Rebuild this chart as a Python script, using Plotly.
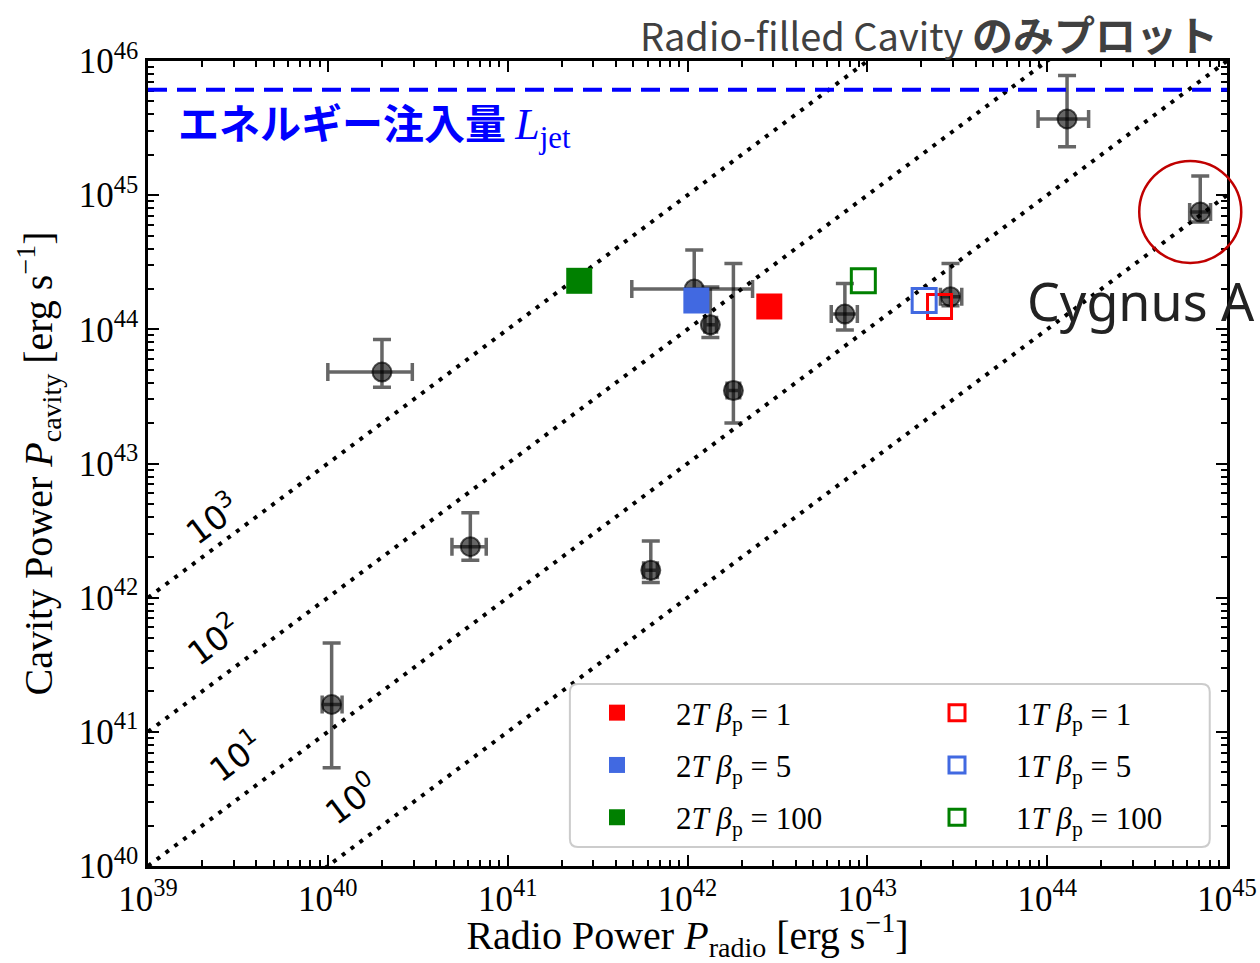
import numpy as np
import plotly.graph_objects as go

# ---------------- data ----------------
# black points (observed clusters)
P_radio = [2.0e40, 1.29e44, 7.1e44, 7.5e42, 2.9e43, 1.09e42, 1.8e42, 1.34e42, 6.2e40, 1.05e40, 6.25e41]
P_radio_lo = [1.0e40, 8.9e43, 6.2e44, 6.3e42, 2.55e43, 4.9e41, 1.66e42, 1.25e42, 4.9e40, 9.3e39, 5.7e41]
P_radio_hi = [2.95e40, 1.7e44, 8.1e44, 8.8e42, 3.35e43, 2.3e42, 1.95e42, 1.45e42, 7.6e40, 1.2e40, 6.8e41]
P_cav = [4.8e43, 3.7e45, 7.5e44, 1.3e44, 1.75e44, 2.0e44, 3.5e43, 1.08e44, 2.4e42, 1.6e41, 1.6e42]
P_cav_lo = [3.7e43, 2.3e45, 6.3e44, 9.9e43, 1.5e44, 1.4e44, 2.0e43, 8.7e43, 1.9e42, 5.4e40, 1.3e42]
P_cav_hi = [8.4e43, 7.8e45, 1.39e45, 2.2e44, 3.1e44, 3.9e44, 3.1e44, 2.07e44, 4.3e42, 4.6e41, 2.65e42]

# simulations
beta_labels = ["1", "5", "100"]
sim_colors = ["#ff0000", "#4169e1", "#008000"]
sim2T_radio = [2.85e42, 1.12e42, 2.5e41]
sim2T_cav = [1.48e44, 1.64e44, 2.3e44]
sim1T_radio = [2.52e43, 2.07e43, 9.5e42]
sim1T_cav = [1.48e44, 1.64e44, 2.3e44]

# ratio lines P_cav / P_radio
ratios = [1, 10, 100, 1000]
ratio_labels = ["10<sup>0</sup>", "10<sup>1</sup>", "10<sup>2</sup>", "10<sup>3</sup>"]
ratio_label_x = [1.35e40, 3.08e39, 2.3e39, 2.27e39]
ratio_label_shift = [50, 45, 44, 31]

L_jet = 6.1e45
cygnus_index = 2

x_range = [39, 45]
y_range = [40, 46]
x_exps = [39, 40, 41, 42, 43, 44, 45]
y_exps = [40, 41, 42, 43, 44, 45, 46]
x_tick_labels = [f"10<sup>{e}</sup>" for e in x_exps]
y_tick_labels = [f"10<sup>{e}</sup>" for e in y_exps]

SERIF = "Liberation Serif, DejaVu Serif, serif"


def minor_vals(exps):
    return [m * 10.0 ** e for e in exps[:-1] for m in range(2, 10)]


fig = go.Figure()

# ratio lines
for k in ratios:
    fig.add_trace(go.Scatter(
        x=[1e39, 1e45], y=[k * 1e39, k * 1e45], mode="lines",
        line=dict(color="black", width=4, dash="4px,7px"),
        showlegend=False, hoverinfo="skip"))

# observed points
ea = "rgba(0,0,0,0.6)"
fig.add_trace(go.Scatter(
    x=P_radio, y=P_cav, mode="markers",
    marker=dict(symbol="circle", size=19, color="rgba(0,0,0,0.6)",
                line=dict(color="rgba(0,0,0,0.65)", width=2)),
    error_y=dict(type="data", symmetric=False,
                 array=[h - v for h, v in zip(P_cav_hi, P_cav)],
                 arrayminus=[v - l for l, v in zip(P_cav_lo, P_cav)],
                 color=ea, thickness=3.5, width=9),
    error_x=dict(type="data", symmetric=False,
                 array=[h - v for h, v in zip(P_radio_hi, P_radio)],
                 arrayminus=[v - l for l, v in zip(P_radio_lo, P_radio)],
                 color=ea, thickness=3.5, width=9),
    showlegend=False))

# simulations 2T (filled) -> legend, 1T (open) -> legend2
for i in range(3):
    fig.add_trace(go.Scatter(
        x=[sim2T_radio[i]], y=[sim2T_cav[i]], mode="markers",
        name=f"2<i>T</i> <i>β</i><sub>p</sub> = {beta_labels[i]}",
        legend="legend", legendgroup=f"a{i}",
        marker=dict(symbol="square", size=26, color=sim_colors[i],
                    line=dict(width=0))))
for i in range(3):
    fig.add_trace(go.Scatter(
        x=[sim1T_radio[i]], y=[sim1T_cav[i]], mode="markers",
        name=f"1<i>T</i> <i>β</i><sub>p</sub> = {beta_labels[i]}",
        legend="legend2", legendgroup=f"b{i}",
        marker=dict(symbol="square-open", size=24, color=sim_colors[i],
                    line=dict(width=3, color=sim_colors[i]))))

shapes = []
# L_jet dashed line
shapes.append(dict(type="line", xref="paper", yref="y", x0=0, x1=1, y0=L_jet, y1=L_jet,
                   line=dict(color="#0000ff", width=4, dash="19px,10px"), layer="above"))

# legend frame (rounded rect in paper coords)
PW, PH = 1079.0, 805.0
lx0, lx1, ly0, ly1 = 0.391, 0.984, 0.0236, 0.226
rx, ry = 8 / PW, 8 / PH
path = (f"M {lx0+rx},{ly0} L {lx1-rx},{ly0} Q {lx1},{ly0} {lx1},{ly0+ry} "
        f"L {lx1},{ly1-ry} Q {lx1},{ly1} {lx1-rx},{ly1} L {lx0+rx},{ly1} "
        f"Q {lx0},{ly1} {lx0},{ly1-ry} L {lx0},{ly0+ry} Q {lx0},{ly0} {lx0+rx},{ly0} Z")
shapes.append(dict(type="path", xref="paper", yref="paper", path=path,
                   fillcolor="rgba(255,255,255,0.85)",
                   line=dict(color="#cccccc", width=2), layer="above"))

# Cygnus A circle
cx = (np.log10(P_radio[cygnus_index]) - x_range[0]) / (x_range[1] - x_range[0])
cy = (np.log10(P_cav[cygnus_index]) - y_range[0]) / (y_range[1] - y_range[0])
shapes.append(dict(type="circle", xref="paper", yref="paper",
                   xsizemode="pixel", ysizemode="pixel", xanchor=cx, yanchor=cy,
                   x0=-61, x1=41, y0=-51, y1=51,
                   line=dict(color="#c00000", width=2.5), layer="above"))

annotations = []
for k, lab, lxv, sh in zip(ratios, ratio_labels, ratio_label_x, ratio_label_shift):
    annotations.append(dict(
        x=np.log10(lxv), y=np.log10(k * lxv), xref="x", yref="y", text=lab,
        showarrow=False, textangle=-36.7, yshift=sh,
        font=dict(family="DejaVu Sans", size=33, color="black")))

annotations.append(dict(
    x=(176 - 148) / PW, xref="paper", y=np.log10(L_jet), yref="y", yshift=-33,
    xanchor="left", yanchor="middle", showarrow=False,
    text=("<b>エネルギー注入量</b> <span style='font-family:Liberation Serif;font-size:44px'><i>L</i>"
          "<sub>jet</sub></span>"),
    font=dict(family="Noto Sans CJK JP", size=41, color="#0000ff")))

annotations.append(dict(
    x=np.log10(P_radio[cygnus_index]), y=np.log10(P_cav[cygnus_index]),
    xref="x", yref="y", xanchor="right", yanchor="middle",
    xshift=57, yshift=-89, showarrow=False, text="Cygnus A",
    font=dict(family="Noto Sans", size=52, color="#222222")))

annotations.append(dict(
    x=(1220 - 148) / PW, y=(866 - 33) / PH, xref="paper", yref="paper",
    xanchor="right", yanchor="middle", showarrow=False,
    text="Radio-filled Cavity <span style='font-size:41px'><b>のみプロット</b></span>",
    font=dict(family="Noto Sans CJK JP", size=38, color="#404040")))

axis_common = dict(
    type="log", showgrid=False, zeroline=False, showline=True, linecolor="black",
    linewidth=2.5, mirror="ticks", ticks="inside", ticklen=11, tickwidth=2,
    tickcolor="black", automargin=False,
    tickfont=dict(family=SERIF, size=35, color="black"),
)

fig.update_layout(
    width=1260, height=963,
    margin=dict(l=148, r=33, t=61, b=97),
    paper_bgcolor="white", plot_bgcolor="white",
    xaxis=dict(axis_common, range=x_range,
               tickvals=[10.0 ** e for e in x_exps], ticktext=x_tick_labels,
               minor=dict(tickvals=minor_vals(x_exps), ticks="inside", ticklen=6,
                          tickwidth=1.5, tickcolor="black", showgrid=False),
               title=dict(text="Radio Power <i>P</i><sub>radio</sub> [erg s<sup>−1</sup>]",
                          font=dict(family=SERIF, size=40, color="black"), standoff=14)),
    yaxis=dict(axis_common, range=y_range,
               tickvals=[10.0 ** e for e in y_exps], ticktext=y_tick_labels,
               minor=dict(tickvals=minor_vals(y_exps), ticks="inside", ticklen=6,
                          tickwidth=1.5, tickcolor="black", showgrid=False),
               title=dict(text="Cavity Power <i>P</i><sub>cavity</sub> [erg s<sup>−1</sup>]",
                          font=dict(family=SERIF, size=40, color="black"), standoff=14)),
    shapes=shapes, annotations=annotations,
    legend=dict(x=(558 - 148) / PW, y=(866 - 686) / PH, xanchor="left", yanchor="top",
                bgcolor="rgba(0,0,0,0)", borderwidth=0, itemwidth=108,
                tracegroupgap=9, font=dict(family=SERIF, size=31, color="black")),
    legend2=dict(x=(898 - 148) / PW, y=(866 - 686) / PH, xanchor="left", yanchor="top",
                 bgcolor="rgba(0,0,0,0)", borderwidth=0, itemwidth=108,
                 tracegroupgap=9, font=dict(family=SERIF, size=31, color="black")),
)

fig.write_html("out.html")
